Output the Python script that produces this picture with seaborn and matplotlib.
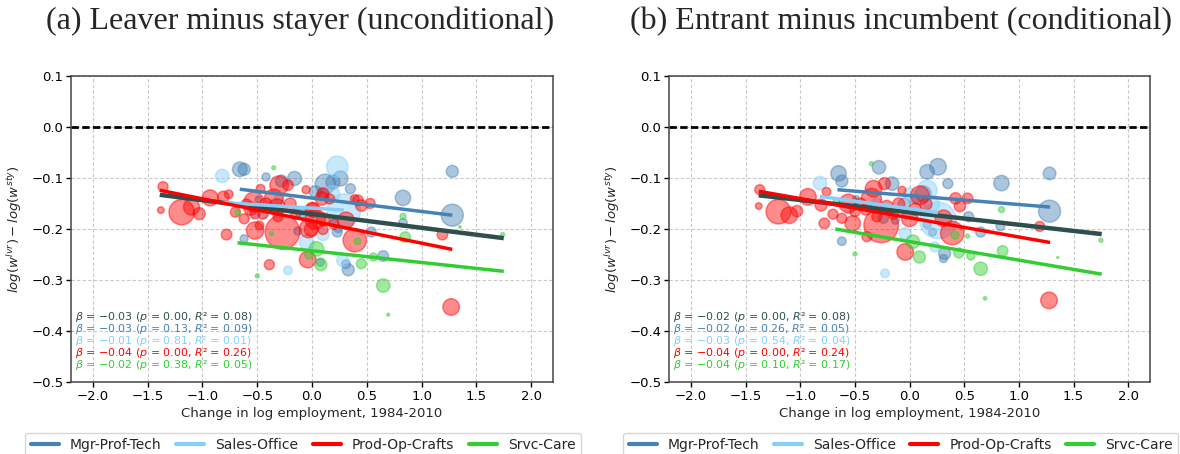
import matplotlib
matplotlib.use('Agg')
import matplotlib.pyplot as plt
import seaborn as sns
import pandas as pd
from matplotlib.lines import Line2D

# occupation groups and colours
groups = ['Mgr-Prof-Tech', 'Sales-Office', 'Prod-Op-Crafts', 'Srvc-Care']
group_colors = ['steelblue', 'lightskyblue', 'red', 'limegreen']
fit_names = ['All'] + groups
fit_colors = ['darkslategray'] + group_colors

# ---- panel (a): leaver minus stayer (unconditional) ----
a_mgr_x = [-0.66, -0.62, -0.42, -0.28, -0.16, 0.12, 0.19, 0.26, 0.35, 0.03, 0.10, -0.62, -0.13,
           -0.49, 0.075, 0.23, 0.54, 0.83, 0.83, 1.28, 1.28, 0.31, 0.33, 0.65, 0.20, 0.24, -0.10, -0.35]
a_mgr_y = [-0.082, -0.082, -0.097, -0.105, -0.100, -0.111, -0.107, -0.100, -0.120, -0.126, -0.130, -0.218, -0.203,
           -0.141, -0.264, -0.205, -0.205, -0.138, -0.187, -0.086, -0.172, -0.268, -0.279, -0.252, -0.185, -0.198, -0.170, -0.160]
a_mgr_w = [7.3, 6, 4, 6, 7, 10, 7, 7.5, 5, 6, 5, 4, 4,
           3.3, 4, 5, 5, 7.7, 4.3, 6, 11, 4.3, 6, 5.3, 4, 4, 5, 5]

a_sales_x = [-0.82, 0.23, 0.29, -0.05, -0.22, 0.28, -0.44, -0.05, 0.18, -0.30, 0.10, -0.55]
a_sales_y = [-0.095, -0.077, -0.163, -0.225, -0.280, -0.261, -0.166, -0.170, -0.130, -0.140, -0.210, -0.170]
a_sales_w = [6.7, 10.7, 16.7, 7.3, 4.3, 6, 6, 8, 8, 5, 6, 5]

a_prod_x = [-1.36, -1.38, -1.19, -1.10, -1.03, -0.93, -0.81, -0.76, -0.70, -0.78, -0.62, -0.53, -0.35,
            -0.32, -0.31, -0.52, -0.56, -0.52, -0.48, -0.27, -0.03, 0.01, 0.09, -0.39, -0.04, 0.42,
            0.45, 0.53, 0.31, 0.39, 1.19, 1.27, -0.22, -0.055, -0.47, -0.30, 0.10, 0.16, 0.00, 0.03,
            0.10, 0.20, 0.10, -0.01, -0.42, -0.20, -0.15, -0.45, -0.60, 0.39]
a_prod_y = [-0.116, -0.162, -0.166, -0.156, -0.169, -0.138, -0.136, -0.131, -0.166, -0.210, -0.179, -0.146, -0.139,
            -0.156, -0.175, -0.169, -0.159, -0.202, -0.192, -0.205, -0.198, -0.162, -0.139, -0.269, -0.259, -0.143,
            -0.153, -0.149, -0.182, -0.221, -0.210, -0.352, -0.113, -0.122, -0.120, -0.113, -0.130, -0.140, -0.160, -0.180,
            -0.180, -0.190, -0.200, -0.200, -0.150, -0.150, -0.170, -0.170, -0.150, -0.140]
a_prod_w = [5, 3.3, 12.7, 8, 6, 8, 5.7, 4.3, 5, 5.3, 5, 10, 9.3,
            8.3, 5, 5, 6.7, 8.7, 4.3, 17.3, 9.3, 7.3, 6.7, 5, 8.3, 5.3,
            5.7, 5, 8.3, 11.7, 5.3, 8.3, 5.3, 4, 4.3, 9.3, 6, 5, 6.7, 10,
            6.7, 5, 5, 6.7, 6, 6, 5, 5, 5, 4.3]

a_srvc_x = [-0.35, -0.68, -0.37, 0.04, -0.50, 0.08, 0.415, 0.83, 0.85, 1.35, 1.74, 0.45, 0.56, 0.65, 0.695, -0.03]
a_srvc_y = [-0.079, -0.167, -0.208, -0.238, -0.291, -0.269, -0.223, -0.174, -0.215, -0.195, -0.210, -0.267, -0.254,
            -0.310, -0.367, -0.250]
a_srvc_w = [2, 3, 2, 7.3, 2, 6, 3.3, 3, 5.3, 1.3, 2, 5, 4, 6.7, 1.5, 4]

# fitted lines (start/end) for All, Mgr, Sales, Prod, Srvc
a_fit_x = [[-1.39, 1.75], [-0.66, 1.28], [-0.82, 0.29], [-1.39, 1.28], [-0.68, 1.75]]
a_fit_y = [[-0.132, -0.217], [-0.121, -0.172], [-0.147, -0.162], [-0.123, -0.239], [-0.226, -0.282]]
a_beta = [-0.03, -0.03, -0.01, -0.04, -0.02]
a_p = [0.00, 0.13, 0.81, 0.00, 0.38]
a_r2 = [0.08, 0.09, 0.01, 0.26, 0.05]

# ---- panel (b): entrant minus incumbent (conditional) ----
b_mgr_x = [-0.65, -0.62, -0.28, -0.16, -0.24, -0.13, -0.62, 0.16, 0.26, 0.35, 0.125, 0.54, 0.65,
           0.21, 0.16, 0.32, 0.31, 0.84, 0.83, 1.28, 1.28, -0.49, -0.05, 0.05]
b_mgr_y = [-0.090, -0.105, -0.078, -0.110, -0.178, -0.182, -0.223, -0.087, -0.077, -0.110, -0.130, -0.175, -0.205,
           -0.205, -0.190, -0.247, -0.257, -0.109, -0.194, -0.090, -0.164, -0.140, -0.150, -0.140]
b_mgr_w = [7.7, 6, 6.7, 6.7, 5, 4, 4.3, 7.3, 8.3, 5, 8, 5, 5,
           4, 4, 6, 4, 7.7, 4.3, 6.3, 11, 3.3, 6, 5]

b_sales_x = [-0.82, 0.16, 0.26, -0.04, -0.225, 0.23, -0.30, 0.00, -0.55, 0.20]
b_sales_y = [-0.109, -0.123, -0.182, -0.208, -0.286, -0.234, -0.150, -0.130, -0.160, -0.150]
b_sales_w = [6.7, 10, 18.3, 6, 4.3, 5, 6, 6, 5, 8]

b_prod_x = [-1.37, -1.38, -1.20, -1.10, -1.03, -0.93, -0.76, -0.81, -0.70, -0.78, -0.62, -0.56, -0.52,
            -0.33, -0.35, -0.23, -0.21, -0.30, -0.26, -0.07, -0.39, -0.04, 0.00, 0.095, 0.31, 0.39,
            0.42, 0.53, 0.46, 1.19, 1.275, -0.45, -0.10, -0.15, 0.05, 0.15, -0.50, -0.40]
b_prod_y = [-0.122, -0.154, -0.165, -0.172, -0.164, -0.136, -0.126, -0.152, -0.170, -0.188, -0.178, -0.149, -0.188,
            -0.120, -0.139, -0.110, -0.156, -0.175, -0.192, -0.123, -0.214, -0.244, -0.178, -0.133, -0.178, -0.207,
            -0.139, -0.139, -0.154, -0.194, -0.339, -0.150, -0.150, -0.170, -0.160, -0.150, -0.165, -0.160]
b_prod_w = [5, 3.3, 12.3, 8.3, 5.7, 8.3, 4.3, 6, 5, 5.3, 5, 9.3, 7.7,
            8.3, 10, 6, 6.7, 5, 17.3, 4, 5, 8.3, 8.3, 9.3, 8.3, 11.7,
            5.7, 5.3, 5.7, 5, 8.3, 6, 6, 5, 6, 6, 5, 6]

b_srvc_x = [-0.35, -0.67, -0.50, 0.03, 0.09, 0.415, 0.53, 0.45, 0.56, 0.65, 0.85, 0.84, 1.355, 1.75, 0.69]
b_srvc_y = [-0.071, -0.144, -0.248, -0.224, -0.254, -0.211, -0.213, -0.246, -0.252, -0.277, -0.242, -0.161,
            -0.255, -0.221, -0.335]
b_srvc_w = [2, 3, 2, 6.7, 6, 4, 2, 5, 4, 6.7, 5.3, 3, 1, 2, 1.7]

b_fit_x = [[-1.38, 1.757], [-0.66, 1.285], [-0.82, 0.26], [-1.38, 1.285], [-0.68, 1.757]]
b_fit_y = [[-0.133, -0.209], [-0.122, -0.156], [-0.135, -0.167], [-0.125, -0.2255], [-0.199, -0.2876]]
b_beta = [-0.02, -0.02, -0.03, -0.04, -0.04]
b_p = [0.00, 0.26, 0.54, 0.00, 0.10]
b_r2 = [0.08, 0.05, 0.04, 0.24, 0.17]


def make_df(xs, ys, ws):
    frames = []
    for g, x, y, w in zip(groups, xs, ys, ws):
        frames.append(pd.DataFrame({'x': x, 'y': y, 'w': w, 'group': g}))
    return pd.concat(frames, ignore_index=True)


df_a = make_df([a_mgr_x, a_sales_x, a_prod_x, a_srvc_x],
               [a_mgr_y, a_sales_y, a_prod_y, a_srvc_y],
               [a_mgr_w, a_sales_w, a_prod_w, a_srvc_w])
df_b = make_df([b_mgr_x, b_sales_x, b_prod_x, b_srvc_x],
               [b_mgr_y, b_sales_y, b_prod_y, b_srvc_y],
               [b_mgr_w, b_sales_w, b_prod_w, b_srvc_w])

sns.set_theme(style='whitegrid')
plt.rcParams['font.family'] = ['DejaVu Sans']
plt.rcParams['mathtext.fontset'] = 'dejavusans'

fig = plt.figure(figsize=(11.8, 4.54), dpi=100)
ax_a = fig.add_axes([0.0602, 0.1575, 0.4085, 0.674])
ax_b = fig.add_axes([0.567, 0.1575, 0.4077, 0.674])


def fmt_tick(v):
    return '%.1f' % v if v >= 0 else '\u2212%.1f' % -v


def draw_panel(ax, df, fit_x, fit_y, beta, pv, r2, title, title_x):
    for g, c in zip(groups, group_colors):
        sub = df[df['group'] == g]
        sns.scatterplot(x=sub['x'], y=sub['y'], s=sub['w'] ** 2 * 2.07, color=c, alpha=0.45,
                        edgecolor=c, linewidth=1.1, ax=ax, legend=False, zorder=3)
    for fx, fy, c in zip(fit_x, fit_y, fit_colors):
        lw = 3.2 if c == 'darkslategray' else 2.5
        ax.plot(fx, fy, color=c, lw=lw, zorder=4, solid_capstyle='butt')
    ax.axhline(0, color='black', lw=2, dashes=(2.65, 1.2), zorder=2)

    for i, c in enumerate(fit_colors):
        txt = r'$\beta$ = $-$%.2f ($p$ = %.2f, $R$² = %.2f)' % (abs(beta[i]), pv[i], r2[i])
        ax.text(-2.16, -0.372 - i * 0.0235, txt, color=c, fontsize=7.9, va='center', ha='left', zorder=5)

    ax.set_xlim(-2.2, 2.2)
    ax.set_ylim(-0.5, 0.1)
    ax.set_xticks([-2.0, -1.5, -1.0, -0.5, 0.0, 0.5, 1.0, 1.5, 2.0])
    ax.set_yticks([-0.5, -0.4, -0.3, -0.2, -0.1, 0.0, 0.1])
    ax.set_xticklabels([fmt_tick(v) for v in ax.get_xticks()])
    ax.set_yticklabels([fmt_tick(v) for v in ax.get_yticks()])
    ax.grid(True, color='#c8c8c8', linestyle=(0, (3, 2)), lw=0.8)
    ax.set_axisbelow(True)
    for sp in ax.spines.values():
        sp.set_color('#444444')
        sp.set_linewidth(1.1)
    ax.tick_params(axis='both', labelsize=9.5, colors='black', length=3.5, width=1,
                   direction='out', left=True, bottom=True, pad=2)
    ax.set_xlabel('Change in log employment, 1984-2010', fontsize=9.5, labelpad=3)
    ax.set_ylabel(r'$log(w^{lvr}) - log(w^{sty})$', fontsize=9.5, labelpad=5)
    ax.set_title(title, fontsize=23, family='Liberation Serif', pad=34, x=title_x)

    handles = [Line2D([0], [0], color=c, lw=3) for c in group_colors]
    ax.legend(handles, groups, loc='upper left', bbox_to_anchor=(-0.095, -0.164, 1.153, 0.0),
              mode='expand', ncol=4, fontsize=10, borderaxespad=0, frameon=True,
              edgecolor='#cccccc', fancybox=True, handlelength=2.0)


draw_panel(ax_a, df_a, a_fit_x, a_fit_y, a_beta, a_p, a_r2,
           '(a) Leaver minus stayer (unconditional)', 0.475)
draw_panel(ax_b, df_b, b_fit_x, b_fit_y, b_beta, b_p, b_r2,
           '(b) Entrant minus incumbent (conditional)', 0.482)

fig.savefig('out.png', dpi=100)
